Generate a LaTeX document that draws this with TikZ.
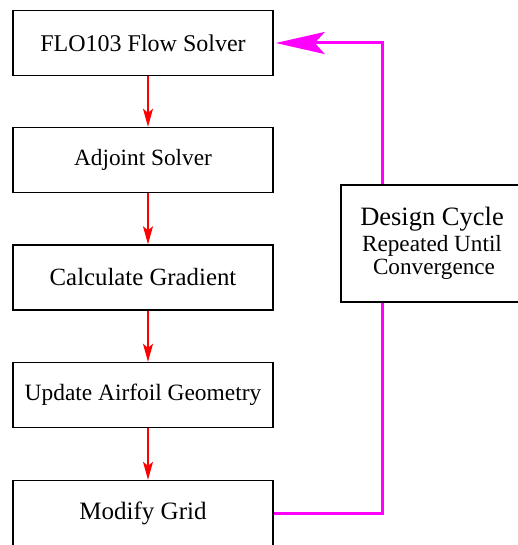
\documentclass[tikz,border=0pt]{standalone}
\usepackage{fontspec}
\setmainfont{Liberation Serif}
\usetikzlibrary{arrows.meta}
\definecolor{mag}{RGB}{255,0,255}
\definecolor{pured}{RGB}{255,0,0}
\begin{document}
\begin{tikzpicture}[x=1pt,y=-1pt,
  stepbox/.style={draw=black,line width=1.4pt,minimum width=260pt,minimum height=65pt,inner sep=0pt,font=\fontsize{23.5}{27}\selectfont},
  redarr/.style={draw=pured,line width=1.4pt,-{Stealth[length=18pt,width=10pt,inset=4pt]}},
  magline/.style={draw=mag,line width=3pt}]
\useasboundingbox (0,0) rectangle (517,545);
\node[stepbox] (flo) at (143,43) {\fontsize{24}{28}\selectfont FLO103 Flow Solver};
\node[stepbox] (adj) at (143,160) {\fontsize{23.3}{27}\selectfont Adjoint Solver};
\node[stepbox] (grad) at (143,277.5) {\fontsize{24.8}{28}\selectfont Calculate Gradient};
\node[stepbox] (upd) at (143,395) {\fontsize{23.4}{27}\selectfont Update Airfoil Geometry};
\node[stepbox] (grid) at (143,513) {\fontsize{25}{28}\selectfont Modify Grid};
\node[draw=black,line width=1.4pt,minimum width=182pt,minimum height=117pt,inner sep=0pt] (cyc) at (432,243.5)
  {\raisebox{-3pt}{\begin{tabular}{@{}c@{}}
   \fontsize{26.5}{26}\selectfont Design Cycle\\[6pt]
   \fontsize{23.2}{26}\selectfont Repeated Until\\[4pt]
   \fontsize{23.2}{26}\selectfont \hspace{4pt}Convergence\end{tabular}}};
\draw[redarr] ([xshift=5pt]flo.south) -- ([xshift=5pt]adj.north);
\draw[redarr] ([xshift=5pt]adj.south) -- ([xshift=5pt]grad.north);
\draw[redarr] ([xshift=5pt]grad.south) -- ([xshift=5pt]upd.north);
\draw[redarr] ([xshift=5pt]upd.south) -- ([xshift=5pt]grid.north);
\draw[magline] (grid.east) -| ([xshift=-50pt]cyc.south);
\draw[magline,-{Stealth[length=49pt,width=22pt,inset=10pt]}] ([xshift=-50pt]cyc.north) |- ([xshift=2pt]flo.east);
\end{tikzpicture}
\end{document}
